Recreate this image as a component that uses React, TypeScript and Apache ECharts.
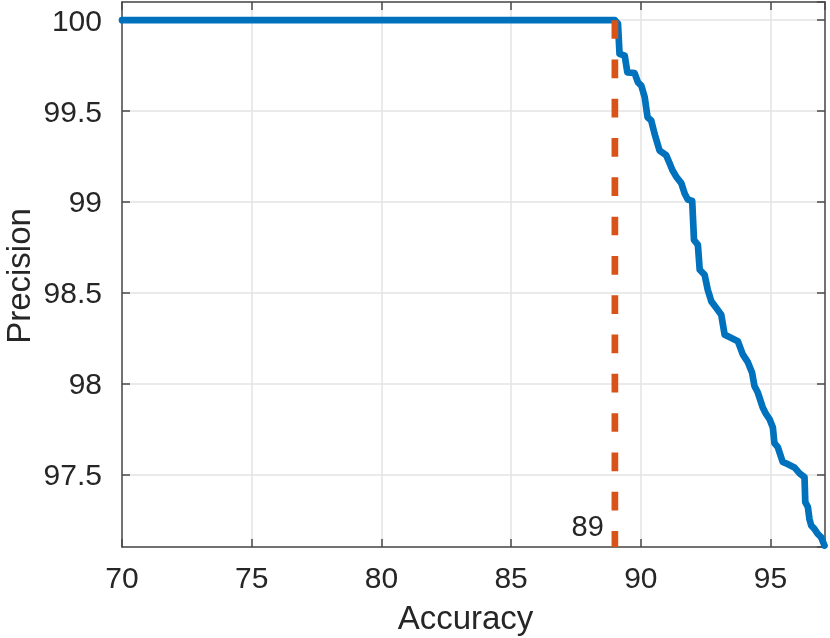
import React, { useEffect, useRef } from "react";
import * as echarts from "echarts";

const accuracy = [70, 89.0, 89.12, 89.18, 89.38, 89.48, 89.76, 89.89, 90.02, 90.15, 90.26, 90.4, 90.53, 90.72, 90.98, 91.11, 91.22, 91.37, 91.56, 91.69, 91.81, 91.98, 92.05, 92.2, 92.27, 92.46, 92.58, 92.72, 92.91, 93.1, 93.23, 93.49, 93.74, 93.93, 94.13, 94.29, 94.38, 94.51, 94.7, 94.83, 94.96, 95.09, 95.15, 95.28, 95.47, 95.67, 95.92, 96.12, 96.31, 96.34, 96.44, 96.5, 96.57, 96.69, 96.82, 96.95, 97.08];
const precision = [100, 100, 99.98, 99.814, 99.804, 99.713, 99.709, 99.658, 99.64, 99.576, 99.466, 99.448, 99.375, 99.283, 99.256, 99.212, 99.174, 99.137, 99.103, 99.046, 99.013, 99.005, 98.79, 98.763, 98.626, 98.598, 98.516, 98.452, 98.416, 98.379, 98.269, 98.251, 98.233, 98.16, 98.116, 98.059, 97.986, 97.95, 97.868, 97.831, 97.804, 97.758, 97.672, 97.65, 97.568, 97.556, 97.538, 97.505, 97.484, 97.347, 97.32, 97.254, 97.218, 97.2, 97.172, 97.154, 97.108];
const thresholdX = 89;
const thresholdLabel = "89";
const xLabel = "Accuracy";
const yLabel = "Precision";
const xRange = [70, 97.1];
const yRange = [97.1, 100.1];

const FONT = "'Liberation Sans', Arial, Helvetica, sans-serif";
const AX = "#4a4a4a";
const TXT = "#262626";

export default function App() {
  const ref = useRef<HTMLDivElement>(null);
  useEffect(() => {
    if (!ref.current) return;
    const chart = echarts.init(ref.current, null, { renderer: "svg" });
    const grid = { left: 122, right: 5, top: 2, bottom: 91, containLabel: false };
    const baseX = {
      type: "value" as const,
      min: xRange[0],
      max: xRange[1],
      interval: 5,
    };
    const baseY = {
      type: "value" as const,
      min: yRange[0],
      max: yRange[1],
      splitNumber: 6,
    };
    chart.setOption({
      animation: false,
      grid,
      xAxis: [
        {
          ...baseX,
          position: "bottom",
          axisLine: { show: true, lineStyle: { color: AX, width: 1.5 } },
          axisTick: { show: true, inside: true, length: 8, lineStyle: { color: AX, width: 1.5 } },
          axisLabel: { show: true, color: TXT, fontSize: 30, fontFamily: FONT, margin: 15, showMaxLabel: false },
          splitLine: { show: true, lineStyle: { color: "#e3e3e3", width: 1.5 } },
        },
        {
          ...baseX,
          position: "top",
          axisLine: { show: true, onZero: false, lineStyle: { color: AX, width: 1.5 } },
          axisTick: { show: true, inside: true, length: 8, lineStyle: { color: AX, width: 1.5 } },
          axisLabel: { show: false },
          splitLine: { show: false },
        },
      ],
      yAxis: [
        {
          ...baseY,
          position: "left",
          axisLine: { show: true, onZero: false, lineStyle: { color: AX, width: 1.5 } },
          axisTick: { show: true, inside: true, length: 8, lineStyle: { color: AX, width: 1.5 } },
          axisLabel: { show: true, color: TXT, fontSize: 30, fontFamily: FONT, margin: 20, showMinLabel: false, showMaxLabel: false },
          splitLine: { show: true, lineStyle: { color: "#e3e3e3", width: 1.5 } },
        },
        {
          ...baseY,
          position: "right",
          axisLine: { show: true, onZero: false, lineStyle: { color: AX, width: 1.5 } },
          axisTick: { show: true, inside: true, length: 8, lineStyle: { color: AX, width: 1.5 } },
          axisLabel: { show: false },
          splitLine: { show: false },
        },
      ],
      series: [
        {
          type: "line",
          xAxisIndex: 0,
          yAxisIndex: 0,
          data: accuracy.map((a, i) => [a, precision[i]]),
          showSymbol: false,
          symbol: "none",
          lineStyle: { color: "#0072BD", width: 6.7, join: "round", cap: "round" },
          z: 2,
        },
        {
          type: "line",
          xAxisIndex: 0,
          yAxisIndex: 0,
          data: [
            [thresholdX, 100],
            [thresholdX, yRange[0]],
          ],
          showSymbol: false,
          symbol: "none",
          lineStyle: { color: "#D95319", width: 6.7, type: [18.7, 20.6], cap: "butt" },
          z: 3,
        },
      ],
    });
    const p = chart.convertToPixel({ xAxisIndex: 0, yAxisIndex: 0 }, [thresholdX, yRange[0]]) as number[];
    const xMid = (grid.left + (830 - grid.right)) / 2;
    chart.setOption({
      graphic: [
        {
          type: "text",
          x: p[0] - 11,
          y: p[1] - 7,
          style: { text: thresholdLabel, fill: TXT, font: `29px ${FONT}`, align: "right", verticalAlign: "bottom" },
          z: 10,
        },
        {
          type: "text",
          x: xMid - 8,
          y: 617,
          style: { text: xLabel, fill: TXT, font: `33px ${FONT}`, align: "center", verticalAlign: "middle" },
        },
        {
          type: "text",
          x: 18,
          y: 276,
          rotation: Math.PI / 2,
          style: { text: yLabel, fill: TXT, font: `33px ${FONT}`, align: "center", verticalAlign: "middle" },
        },
      ],
    });
    return () => chart.dispose();
  }, []);
  return <div ref={ref} style={{ position: "fixed", left: 0, top: 0, width: 830, height: 638 }} />;
}
